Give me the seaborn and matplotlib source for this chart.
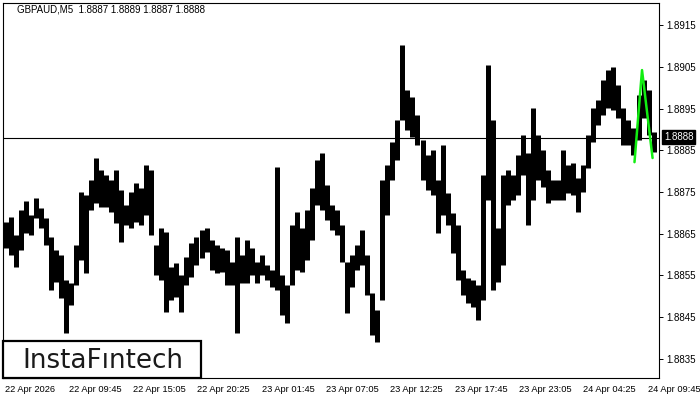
import numpy as np
import pandas as pd
import matplotlib
matplotlib.use('Agg')
import matplotlib.pyplot as plt
from matplotlib.patches import Rectangle
import matplotlib.transforms as mtrans
import seaborn as sns

# ---- data (GBPAUD M5, blocks of 5 bars) ----
title_text = 'GBPAUD,M5  1.8887 1.8889 1.8887 1.8888'
bars_per_block = 5

block_high = [
    1.88678, 1.88690, 1.88647, 1.88707, 1.88729, 1.88695, 1.88736, 1.88712, 1.88688, 1.88642,
    1.88611, 1.88599, 1.88539, 1.88532, 1.88623, 1.88750, 1.88743, 1.88779, 1.88832, 1.88803,
    1.88791, 1.88779, 1.88803, 1.88755, 1.88719, 1.88750, 1.88772, 1.88760, 1.88815, 1.88803,
    1.88623, 1.88664, 1.88654, 1.88570, 1.88580, 1.88551, 1.88594, 1.88628, 1.88642, 1.88659,
    1.88664, 1.88635, 1.88623, 1.88616, 1.88611, 1.88582, 1.88642, 1.88599, 1.88635, 1.88616,
    1.88582, 1.88599, 1.88575, 1.88563, 1.88810, 1.88551, 1.88527, 1.88671, 1.88702, 1.88664,
    1.88707, 1.88760, 1.88827, 1.88844, 1.88767, 1.88719, 1.88707, 1.88671, 1.88582, 1.88599,
    1.88623, 1.88659, 1.88599, 1.88508, 1.88467, 1.88779, 1.88815, 1.88870, 1.88923, 1.89103,
    1.88995, 1.88978, 1.88935, 1.88875, 1.88839, 1.88851, 1.88779, 1.88863, 1.88748, 1.88699,
    1.88671, 1.88563, 1.88544, 1.88539, 1.88527, 1.88791, 1.89055, 1.88923, 1.88664, 1.88791,
    1.88803, 1.88791, 1.88839, 1.88887, 1.88844, 1.88952, 1.88887, 1.88851, 1.88803, 1.88779,
    1.88779, 1.88851, 1.88815, 1.88820, 1.88784, 1.88815, 1.88887, 1.88952, 1.88971, 1.89019,
    1.89043, 1.89050, 1.89007, 1.88952, 1.88923, 1.88904, 1.88983, 1.89019, 1.88995, 1.88894,
]
block_low = [
    1.88616, 1.88599, 1.88570, 1.88611, 1.88652, 1.88647, 1.88688, 1.88664, 1.88623, 1.88515,
    1.88534, 1.88496, 1.88412, 1.88479, 1.88527, 1.88587, 1.88556, 1.88707, 1.88724, 1.88714,
    1.88714, 1.88702, 1.88676, 1.88630, 1.88671, 1.88664, 1.88678, 1.88671, 1.88695, 1.88647,
    1.88551, 1.88539, 1.88462, 1.88491, 1.88498, 1.88462, 1.88527, 1.88546, 1.88575, 1.88592,
    1.88606, 1.88563, 1.88556, 1.88558, 1.88527, 1.88527, 1.88412, 1.88532, 1.88532, 1.88551,
    1.88532, 1.88551, 1.88539, 1.88522, 1.88515, 1.88455, 1.88436, 1.88527, 1.88563, 1.88558,
    1.88587, 1.88635, 1.88719, 1.88707, 1.88683, 1.88659, 1.88647, 1.88582, 1.88460, 1.88522,
    1.88563, 1.88575, 1.88503, 1.88407, 1.88391, 1.88491, 1.88695, 1.88779, 1.88827, 1.88923,
    1.88899, 1.88882, 1.88863, 1.88779, 1.88755, 1.88743, 1.88652, 1.88695, 1.88671, 1.88604,
    1.88539, 1.88503, 1.88484, 1.88474, 1.88443, 1.88491, 1.88731, 1.88515, 1.88534, 1.88575,
    1.88719, 1.88731, 1.88743, 1.88791, 1.88671, 1.88731, 1.88779, 1.88762, 1.88724, 1.88731,
    1.88731, 1.88731, 1.88748, 1.88743, 1.88702, 1.88750, 1.88808, 1.88870, 1.88911, 1.88935,
    1.88952, 1.88947, 1.88928, 1.88863, 1.88863, 1.88839, 1.88875, 1.88928, 1.88887, 1.88846,
]

# green pattern overlay (bar index, price)
pattern_bar = [628, 635.5, 646]
pattern_price = [1.88822, 1.89043, 1.88832]

last_price = 1.8888

tick_bars = [0, 64, 128, 192, 256, 320, 384, 448, 512, 576, 640]
tick_labels = ['22 Apr 2026', '22 Apr 09:45', '22 Apr 15:05', '22 Apr 20:25',
               '23 Apr 01:45', '23 Apr 07:05', '23 Apr 12:25', '23 Apr 17:45',
               '23 Apr 23:05', '24 Apr 04:25', '24 Apr 09:45']
price_ticks = [1.8835, 1.8845, 1.8855, 1.8865, 1.8875, 1.8885, 1.8895, 1.8905, 1.8915]

# long form table: one vertical stroke per block
rows = []
for k, (hi, lo) in enumerate(zip(block_high, block_low)):
    t = k * bars_per_block + (bars_per_block - 1) / 2
    rows.append({'block': k, 'bar': t, 'price': hi})
    rows.append({'block': k, 'bar': t, 'price': lo})
df = pd.DataFrame(rows)

sns.set_style('white')
plt.rcParams['font.family'] = ['Liberation Sans', 'DejaVu Sans']

fig = plt.figure(figsize=(7, 4), dpi=100)
ax = fig.add_axes([3 / 700, 22 / 400, 656 / 700, 375 / 400])

sns.lineplot(data=df, x='bar', y='price', units='block', estimator=None, sort=False,
             color='black', lw=3.6, solid_capstyle='butt', ax=ax)
sns.lineplot(x=pattern_bar, y=pattern_price, color='#11ee11', lw=1.8, sort=False,
             estimator=None, ax=ax, zorder=4)
ax.axhline(last_price, color='black', lw=0.8, zorder=3)

ax.set_xlim(-0.6, 652.4)
ax.set_ylim(1.88304, 1.89204)
ax.set_xlabel('')
ax.set_ylabel('')

ax.yaxis.tick_right()
ax.set_yticks(price_ticks)
ax.set_yticklabels([f'{p:.4f}' for p in price_ticks])
ax.set_xticks(tick_bars)
ax.set_xticklabels(tick_labels)
ax.tick_params(axis='both', direction='out', length=3, width=0.7, labelsize=7,
               colors='black', pad=2)
ax.tick_params(axis='x', labelsize=6.7)
ax.tick_params(axis='y', left=False, right=True, pad=2.5)
shift = mtrans.ScaledTranslation(1 / 100, 0, fig.dpi_scale_trans)
for lbl in ax.get_xticklabels():
    lbl.set_ha('left')
    lbl.set_transform(lbl.get_transform() + shift)

for sp in ax.spines.values():
    sp.set_visible(True)
    sp.set_color('black')
    sp.set_linewidth(0.8)

# current price tag on the right axis
ax.annotate(f'{last_price:.4f}', xy=(1.0, last_price), xycoords=('axes fraction', 'data'),
            xytext=(3.5, 0.5), textcoords='offset points', ha='left', va='center',
            color='white', fontsize=7, annotation_clip=False,
            bbox=dict(boxstyle='square,pad=0.2', fc='black', ec='black'))

fig.text(17 / 700, 1 - 10 / 400, title_text, fontsize=7, color='black', va='center')

# logo box
fig.add_artist(Rectangle((3 / 700, 22 / 400), 198 / 700, 37 / 400, transform=fig.transFigure,
                         facecolor='white', edgecolor='black', lw=1.6, zorder=5))
fig.text(22 / 700, 32 / 400, 'InstaF\u0131ntech', fontsize=18.8, color='#1a1a1a',
         family='DejaVu Sans', va='baseline', zorder=6)

fig.savefig('out.png', dpi=100)
